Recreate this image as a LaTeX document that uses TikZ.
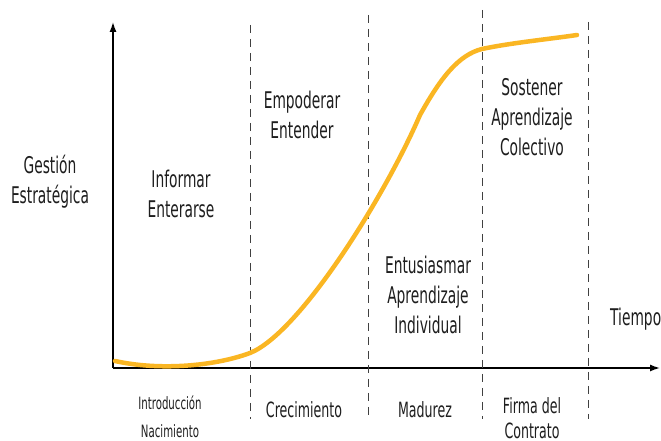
\documentclass[tikz,border=0pt]{standalone}
\usepackage{fontspec}
\setmainfont{DejaVu Sans}[FakeStretch=0.6]
\usepackage{tikz}
\usetikzlibrary{arrows.meta}
\definecolor{curva}{RGB}{250,182,35}
\definecolor{texto}{RGB}{30,30,30}

\begin{document}
\begin{tikzpicture}[x=1pt,y=1pt,
  etapa/.style={align=center,inner sep=0pt,text=texto,font=\fontsize{23}{30}\selectfont},
  fase/.style={align=center,inner sep=0pt,text=texto,font=\fontsize{21}{25}\selectfont},
  eje/.style={line width=1.4pt,-{Latex[length=10pt,width=7pt]}},
  limite/.style={dashed,dash pattern=on 8pt off 6pt,line width=0.9pt,black!75}]
  \useasboundingbox (0,0) rectangle (661,441);
  % ejes
  \coordinate (o) at (113,73);
  \coordinate (ytop) at (113,419);
  \coordinate (xend) at (660,73);
  \draw[eje] (o) -- (ytop);
  \draw[eje] (o) -- (xend);
  % limites de etapas
  \foreach \x/\t in {250/416,368/426,482/431,588/419}
    \draw[limite] (\x,\t) -- (\x,22);
  % curva
  \draw[curva,line width=4.5pt,line cap=round] (115,80)
    .. controls (160,70) and (215,75) .. (250,88)
    .. controls (300,108) and (385,245) .. (420,326)
    .. controls (440,362) and (458,386) .. (482,392)
    .. controls (510,398) and (550,402) .. (577,406);
  % textos
  \node[etapa] (gest) at (50,259) {Gestión\\Estratégica};
  \node[etapa] (inf) at (181,247) {Informar\\Enterarse};
  \node[etapa] (emp) at (302,326) {Empoderar\\Entender};
  \node[etapa] (ent) at (428,146) {Entusiasmar\\Aprendizaje\\Individual};
  \node[etapa] (sos) at (532,324) {Sostener\\Aprendizaje\\Colectivo};
  \node[etapa,anchor=west] (tiempo) at (610,122) {Tiempo};
  \node[fase,font=\fontsize{17}{28}\selectfont] (intro) at (170,24) {Introducción\\Nacimiento};
  \node[fase] (crec) at (304,31) {Crecimiento};
  \node[fase] (mad) at (425,31) {Madurez};
  \node[fase] (firma) at (532,23) {Firma del\\Contrato};
\end{tikzpicture}
\end{document}
